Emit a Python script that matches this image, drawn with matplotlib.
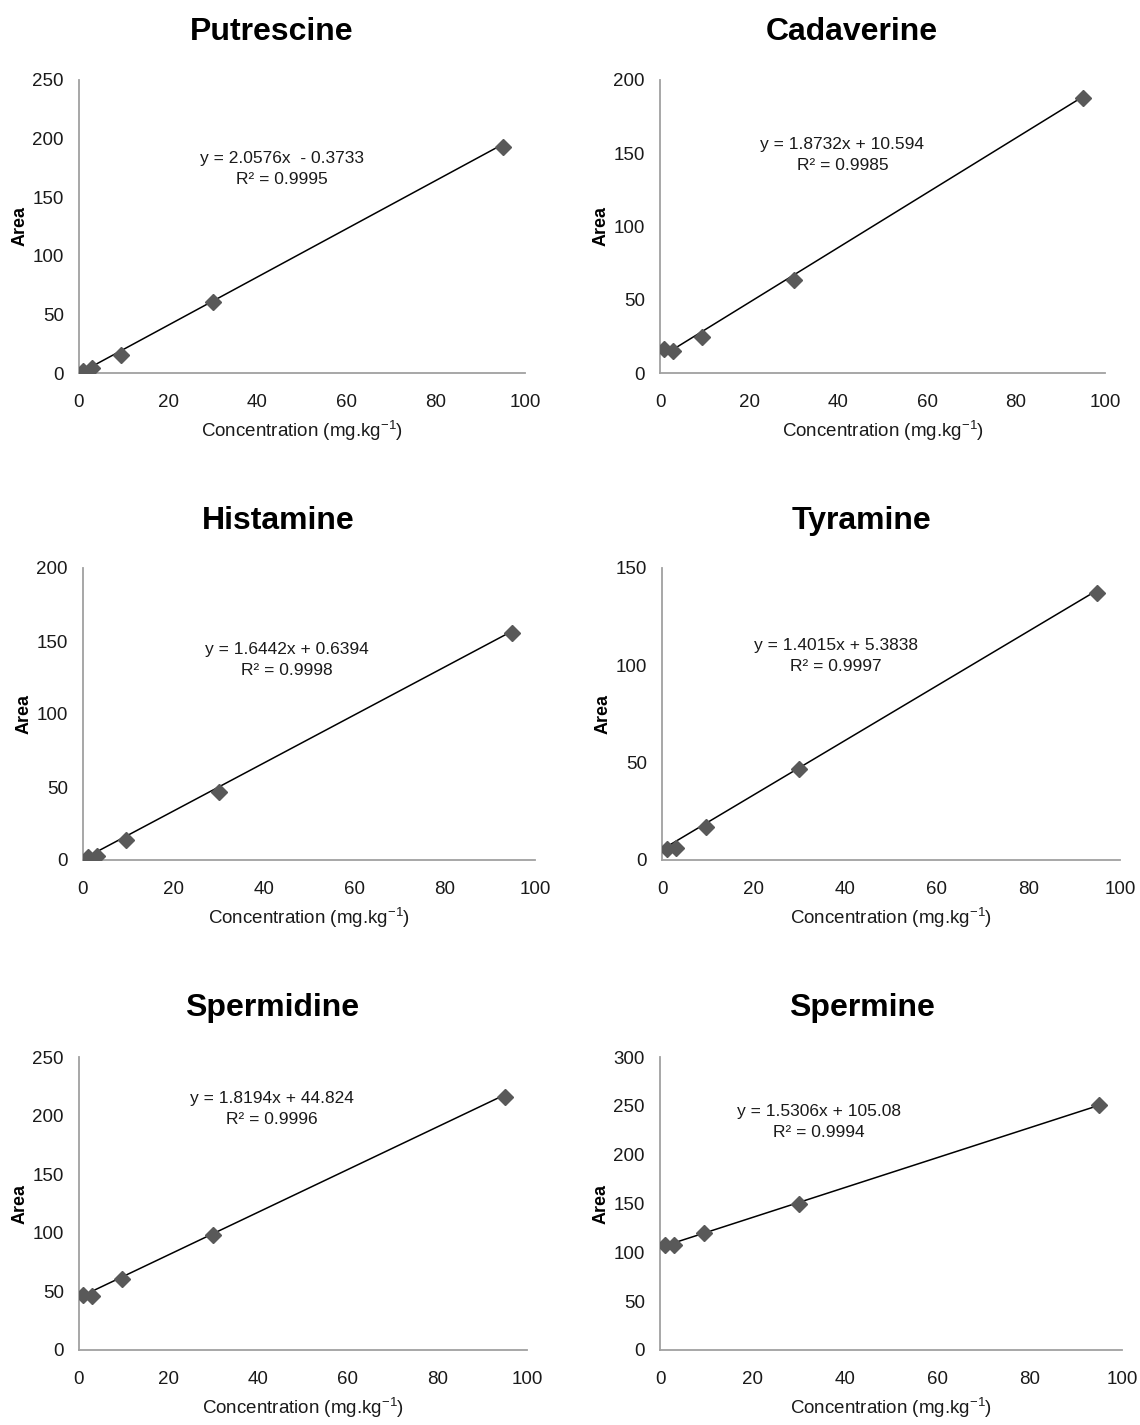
import numpy as np
import matplotlib
matplotlib.use("Agg")
import matplotlib.pyplot as plt

FONT = ['Liberation Sans', 'DejaVu Sans']
plt.rcParams['font.family'] = FONT
plt.rcParams['mathtext.default'] = 'regular'

# ---- data ----
names = ["Putrescine", "Cadaverine", "Histamine", "Tyramine", "Spermidine", "Spermine"]
conc = [1, 3, 9.5, 30, 95]
putrescine = [2, 4, 15.5, 60.5, 193]
cadaverine = [16.5, 15, 24.5, 63.5, 188]
histamine = [2, 2.5, 13.7, 46.6, 155.5]
tyramine = [5.6, 6.2, 17, 47, 137]
spermidine = [47, 46, 61, 98, 216]
spermine = [107.5, 107.5, 120, 149.5, 251]
slopes = [2.0576, 1.8732, 1.6442, 1.4015, 1.8194, 1.5306]
intercepts = [-0.3733, 10.594, 0.6394, 5.3838, 44.824, 105.08]
r2 = ["0.9995", "0.9985", "0.9998", "0.9997", "0.9996", "0.9994"]
eq_text = ["y = 2.0576x  - 0.3733", "y = 1.8732x + 10.594", "y = 1.6442x + 0.6394",
           "y = 1.4015x + 5.3838", "y = 1.8194x + 44.824", "y = 1.5306x + 105.08"]
ymax = [250, 200, 200, 150, 250, 300]
ystep = [50, 50, 50, 50, 50, 50]
xticks = [0, 20, 40, 60, 80, 100]
series = [putrescine, cadaverine, histamine, tyramine, spermidine, spermine]

# ---- layout (pixels) ----
W, H = 1140, 1425
boxes = [(79, 525, 80, 373), (660, 1105, 80, 373),
         (83, 535, 568, 860), (662, 1120, 568, 860),
         (79, 527, 1057, 1350), (660, 1122, 1057, 1350)]
title_pos = [(272, 32), (852, 32), (278, 521), (862, 521), (272, 1008), (862, 1008)]
eq_pos = [(45.5, 174), (41, 149), (45, 137), (38, 105), (43, 206), (34.4, 233)]

fig = plt.figure(figsize=(W / 100, H / 100), dpi=100)

for i in range(6):
    l, r, t, b = boxes[i]
    ax = fig.add_axes([l / W, 1 - b / H, (r - l) / W, (b - t) / H])
    x = np.array(conc)
    ax.plot(x, slopes[i] * x + intercepts[i], color='black', lw=1.1, zorder=2)
    ax.plot(conc, series[i], linestyle='none', marker='D', markersize=8.5,
            color='#595959', zorder=3)
    ax.set_xlim(0, 100)
    ax.set_ylim(0, ymax[i])
    ax.set_xticks(xticks)
    ax.set_yticks(np.arange(0, ymax[i] + 1, ystep[i]))
    ax.tick_params(length=0, labelsize=13.5, labelcolor='#1a1a1a')
    ax.tick_params(axis='x', pad=15)
    ax.tick_params(axis='y', pad=11)
    for s in ['top', 'right']:
        ax.spines[s].set_visible(False)
    for s in ['left', 'bottom']:
        ax.spines[s].set_color('#A0A0A0')
        ax.spines[s].set_linewidth(1.3)
    ax.set_xlabel('Concentration (mg.kg$^{-1}$)', fontsize=13.5, color='#1a1a1a',
                  labelpad=6)
    ax.set_ylabel('Area', fontsize=13, fontweight='bold', labelpad=3)
    ex, ey = eq_pos[i]
    ax.text(ex, ey, eq_text[i] + "\nR² = " + r2[i], ha='center', va='center',
            fontsize=12.5, color='#1a1a1a', linespacing=1.5)
    tx, ty = title_pos[i]
    fig.text(tx / W, 1 - ty / H, names[i], ha='center', va='center',
             fontsize=23, fontweight='bold')

fig.savefig('out.png', dpi=100)
